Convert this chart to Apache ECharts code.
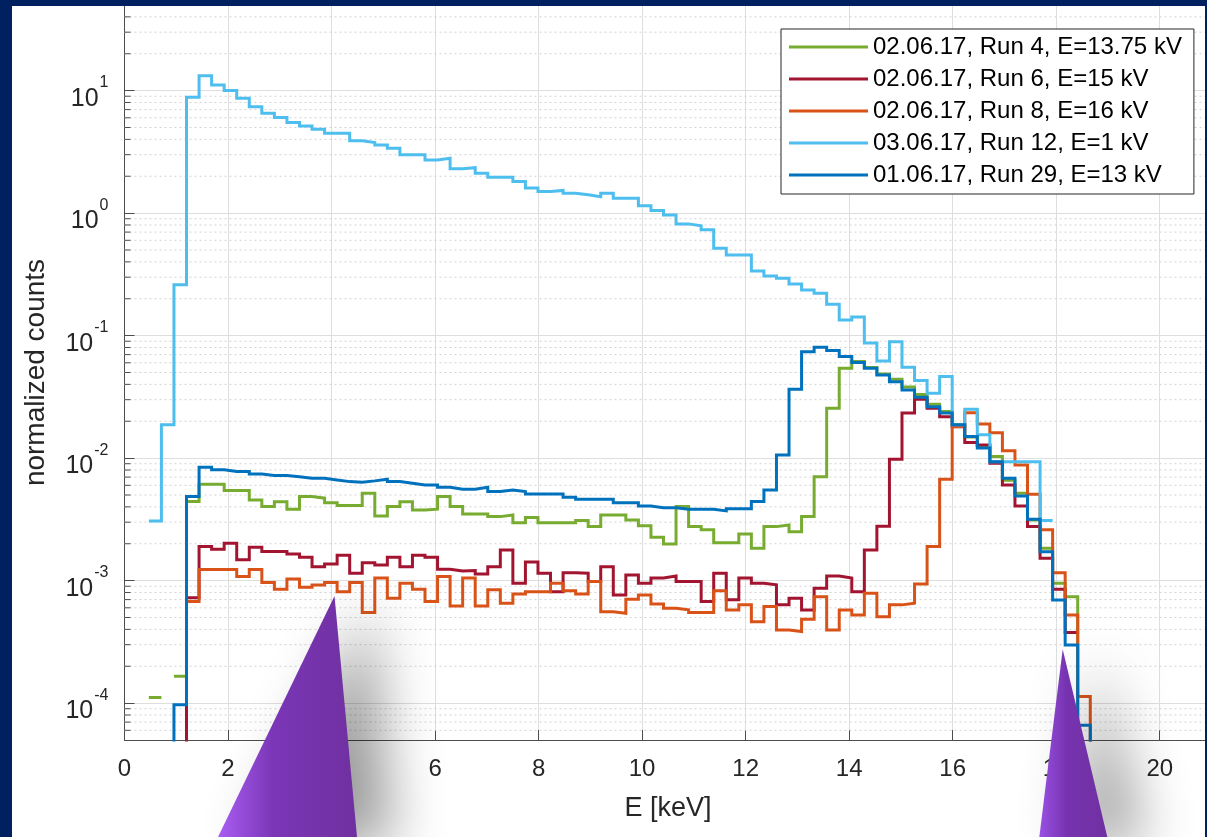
<!DOCTYPE html>
<html>
<head>
<meta charset="utf-8">
<script src="https://cdn.jsdelivr.net/npm/echarts@6/dist/echarts.min.js"></script>
<style>
html,body{margin:0;padding:0;background:#002060;}
#chart{width:1207px;height:837px;}
</style>
</head>
<body>
<div id="chart"></div>
<script>
// ---- histogram binning (keV) ----
const BIN_START = 0.4705;
const BIN_WIDTH = 0.2425;

// ---- axis ticks ----
const X_TICK_STEP = 2;
const X_MIN = 0, X_MAX = 21;
const Y_MIN = 5e-5, Y_MAX = 50;

// ---- legend / series names ----
const NAMES = [
  '02.06.17, Run 4, E=13.75 kV',
  '02.06.17, Run 6, E=15 kV',
  '02.06.17, Run 8, E=16 kV',
  '03.06.17, Run 12, E=1 kV',
  '01.06.17, Run 29, E=13 kV'
];
const COLORS = ['#77AC30', '#A2142F', '#D95319', '#4DBEEE', '#0072BD'];

// ---- bin contents (normalized counts), null = empty bin ----
const RUN4 = [1.11e-4, null, 1.66e-4, 4.42e-3, 6.12e-3, 6.12e-3, 5.43e-3, 5.43e-3, 4.56e-3, 4.02e-3,
  4.41e-3, 3.83e-3, 4.85e-3, 4.71e-3, 4.33e-3, 4.1e-3, 4.1e-3, 5.17e-3, 3.37e-3, 4.02e-3,
  4.41e-3, 3.78e-3, 3.83e-3, 4.85e-3, 4.02e-3, 3.5e-3, 3.5e-3, 3.33e-3, 3.44e-3, 2.97e-3,
  3.28e-3, 2.97e-3, 2.97e-3, 2.97e-3, 3.09e-3, 2.76e-3, 3.44e-3, 3.44e-3, 3.13e-3, 2.8e-3,
  2.26e-3, 1.99e-3, 4.02e-3, 2.76e-3, 2.6e-3, 2.04e-3, 2.04e-3, 2.4e-3, 1.84e-3, 2.76e-3,
  2.85e-3, 2.51e-3, 3.33e-3, 7.06e-3, 2.55e-2, 5.42e-2, 6.14e-2, 5.5e-2, 4.86e-2, 4.4e-2,
  3.8e-2, 3.3e-2, 2.75e-2, 2.4e-2, 1.87e-2, 1.49e-2, 1.27e-2, 1.03e-2, 6.6e-3, 5.17e-3,
  3.13e-3, 1.84e-3, 9.53e-4, 7.4e-4, 1e-5, null];

const RUN6 = [null, null, 1e-5, 7.26e-4, 1.9e-3, 1.8e-3, 2.02e-3, 1.48e-3, 1.87e-3, 1.73e-3,
  1.73e-3, 1.65e-3, 1.55e-3, 1.3e-3, 1.37e-3, 1.61e-3, 1.15e-3, 1.4e-3, 1.34e-3, 1.55e-3,
  1.3e-3, 1.61e-3, 1.55e-3, 1.24e-3, 1.2e-3, 1.21e-3, 1.13e-3, 1.3e-3, 1.78e-3, 9.53e-4,
  1.42e-3, 1.15e-3, 8.13e-4, 1.16e-3, 1.15e-3, 9.82e-4, 1.3e-3, 7.64e-4, 1.11e-3, 9.53e-4,
  1.05e-3, 1.09e-3, 9.82e-4, 9.82e-4, 6.75e-4, 1.15e-3, 6.97e-4, 1.05e-3, 9.53e-4, 9.23e-4,
  6.34e-4, 7.18e-4, 5.77e-4, 8.67e-4, 1.09e-3, 1.05e-3, 8.13e-4, 1.78e-3, 2.78e-3, 9.8e-3,
  2.33e-2, 3.03e-2, 2.55e-2, 2.18e-2, 1.8e-2, 1.34e-2, 1.28e-2, 9.08e-3, 6.04e-3, 4.07e-3,
  2.76e-3, 1.52e-3, 8.5e-4, 3.77e-4, null, null];

const RUN8 = [null, null, null, 6.75e-4, 1.23e-3, 1.23e-3, 1.23e-3, 1.08e-3, 1.23e-3, 9.64e-4,
  8.51e-4, 1.03e-3, 8.83e-4, 9.23e-4, 9.64e-4, 8.13e-4, 9.64e-4, 5.48e-4, 1.05e-3, 7.18e-4,
  9.53e-4, 8.51e-4, 6.75e-4, 1.08e-3, 6.21e-4, 1.05e-3, 6.21e-4, 8.43e-4, 6.53e-4, 7.78e-4,
  8.13e-4, 8.13e-4, 9.53e-4, 8.28e-4, 7.78e-4, 9.82e-4, 5.58e-4, 5.42e-4, 7.05e-4, 7.64e-4,
  6.45e-4, 5.96e-4, 5.77e-4, 5.48e-4, 5.48e-4, 8.28e-4, 5.77e-4, 6.34e-4, 4.62e-4, 6.14e-4,
  3.96e-4, 3.84e-4, 4.84e-4, 7.4e-4, 3.96e-4, 5.77e-4, 5.25e-4, 7.89e-4, 5.08e-4, 6.34e-4,
  6.53e-4, 9.4e-4, 1.9e-3, 6.73e-3, 1.81e-2, 2.35e-2, 1.9e-2, 1.61e-2, 1.15e-2, 8.8e-3,
  5.07e-3, 2.6e-3, 1.16e-3, 5.25e-4, 1.13e-4, 1e-5];

const RUN12 = [3.07e-3, 1.87e-2, 0.26, 8.83, 13.2, 11.1, 10.0, 8.67, 7.4, 6.54,
  6.02, 5.48, 5.15, 4.84, 4.49, 4.49, 3.89, 3.77, 3.6, 3.39,
  2.99, 2.99, 2.72, 2.81, 2.3, 2.35, 2.12, 1.96, 1.96, 1.81,
  1.6, 1.5, 1.53, 1.45, 1.41, 1.36, 1.45, 1.32, 1.32, 1.15,
  1.05, 0.966, 0.817, 0.787, 0.73, 0.516, 0.456, 0.456, 0.337, 0.307,
  0.294, 0.264, 0.236, 0.222, 0.18, 0.134, 0.142, 0.087, 0.0621, 0.0893,
  0.0552, 0.043, 0.0339, 0.0463, 0.0187, 0.0251, 0.0155, 0.00935, 0.00935, 0.00935,
  0.00935, 0.00309, null, null, null, null];

const RUN29 = [null, 1e-5, 9.7e-5, 4.85e-3, 8.43e-3, 8.02e-3, 7.77e-3, 7.77e-3, 7.43e-3, 7.2e-3,
  7.2e-3, 7.06e-3, 6.85e-3, 6.85e-3, 6.64e-3, 6.43e-3, 6.36e-3, 6.52e-3, 6.73e-3, 6.43e-3,
  6.24e-3, 6.04e-3, 6.04e-3, 5.78e-3, 5.57e-3, 5.57e-3, 5.78e-3, 5.33e-3, 5.5e-3, 5.33e-3,
  5.1e-3, 5.1e-3, 5.1e-3, 4.8e-3, 4.62e-3, 4.62e-3, 4.62e-3, 4.33e-3, 4.33e-3, 4.07e-3,
  3.94e-3, 3.94e-3, 3.83e-3, 3.83e-3, 3.83e-3, 3.71e-3, 3.87e-3, 3.87e-3, 4.42e-3, 5.5e-3,
  1.06e-2, 3.65e-2, 7.4e-2, 8.04e-2, 7.55e-2, 6.75e-2, 6.02e-2, 5.42e-2, 4.77e-2, 4.21e-2,
  3.6e-2, 3.14e-2, 2.63e-2, 2.33e-2, 1.87e-2, 1.5e-2, 1.21e-2, 9.36e-3, 6.85e-3, 4.91e-3,
  3.17e-3, 1.72e-3, 6.95e-4, 2.98e-4, 6.6e-5, 1e-5];

const ALL = [RUN4, RUN6, RUN8, RUN12, RUN29];

// ---- build stairs from bin contents ----
function stairs(vals) {
  const pts = [];
  vals.forEach((v, i) => {
    const x0 = BIN_START + i * BIN_WIDTH;
    const x1 = x0 + BIN_WIDTH;
    if (v == null) { pts.push([x0, '-']); return; }
    pts.push([x0, v], [x1, v]);
  });
  return pts;
}

// minor log gridlines (2..9 x 10^k)
const MINOR_Y = [];
for (let k = -5; k <= 1; k++) {
  for (let m = 2; m <= 9; m++) {
    const v = m * Math.pow(10, k);
    if (v > Y_MIN * 1.0001 && v < Y_MAX * 0.9999) MINOR_Y.push(v);
  }
}

const FONT = "'Liberation Sans', Arial, Helvetica, sans-serif";
const AXIS_COLOR = '#4d4d4d';
const TEXT_COLOR = '#262626';

const series = [{
  type: 'custom',
  name: 'minor',
  silent: true,
  z: 1,
  clip: true,
  data: MINOR_Y.map(v => [X_MIN, v]),
  renderItem: function (params, api) {
    const p = api.coord([X_MIN, api.value(1)]);
    const cs = params.coordSys;
    return {
      type: 'group',
      children: [
        { type: 'line', shape: { x1: cs.x, y1: p[1], x2: cs.x + cs.width, y2: p[1] },
          style: { stroke: '#d2d2d2', lineWidth: 1, lineDash: [2, 3] } },
        { type: 'line', shape: { x1: cs.x, y1: p[1], x2: cs.x + 6, y2: p[1] },
          style: { stroke: AXIS_COLOR, lineWidth: 1 } }
      ]
    };
  }
}];

ALL.forEach((vals, i) => {
  series.push({
    type: 'line',
    name: NAMES[i],
    data: stairs(vals),
    symbol: 'none',
    showSymbol: false,
    clip: true,
    z: 2,
    connectNulls: false,
    lineStyle: { color: COLORS[i], width: 3, cap: 'butt', join: 'miter' },
    itemStyle: { color: COLORS[i] },
    emphasis: { disabled: true }
  });
});

const chart = echarts.init(document.getElementById('chart'), null, { renderer: 'canvas' });

chart.setOption({
  animation: false,
  backgroundColor: '#ffffff',
  textStyle: { fontFamily: FONT },
  grid: { left: 124.5, right: -4.5, top: 5, bottom: 97, containLabel: false, outerBoundsMode: 'none' },
  xAxis: {
    type: 'value',
    min: X_MIN, max: X_MAX, interval: X_TICK_STEP,
    axisLine: { show: true, onZero: false, lineStyle: { color: AXIS_COLOR, width: 1 } },
    axisTick: { show: true, inside: true, length: 10, lineStyle: { color: AXIS_COLOR } },
    splitLine: { show: true, lineStyle: { color: '#dedede', width: 1 } },
    axisLabel: { show: true, showMaxLabel: false, margin: 17, fontSize: 24, color: TEXT_COLOR, fontFamily: FONT },
    name: 'E [keV]', nameLocation: 'middle', nameGap: 55,
    nameTextStyle: { fontSize: 27, color: TEXT_COLOR, fontFamily: FONT }
  },
  yAxis: {
    type: 'log', logBase: 10, min: Y_MIN, max: Y_MAX,
    axisLine: { show: true, lineStyle: { color: AXIS_COLOR, width: 1 } },
    axisTick: { show: true, inside: true, length: 10, lineStyle: { color: AXIS_COLOR } },
    splitLine: { show: true, lineStyle: { color: '#dedede', width: 1 } },
    axisLabel: {
      show: true, showMinLabel: false, showMaxLabel: false, margin: 16,
      formatter: function (v) { return '{b|10}{s|' + Math.round(Math.log10(v)) + '}'; },
      rich: {
        b: { fontSize: 25, color: TEXT_COLOR, fontFamily: FONT, padding: [16, 0, 0, 0] },
        s: { fontSize: 16, color: TEXT_COLOR, fontFamily: FONT, padding: [0, 0, 16, 1] }
      }
    },
    name: 'normalized counts', nameLocation: 'middle', nameGap: 74,
    nameTextStyle: { fontSize: 28, color: TEXT_COLOR, fontFamily: FONT }
  },
  legend: {
    data: NAMES,
    orient: 'vertical',
    left: 781, top: 29,
    padding: [4, 12, 5, 8],
    backgroundColor: '#ffffff',
    borderColor: '#262626', borderWidth: 1,
    itemWidth: 79, itemHeight: 3, itemGap: 4,
    icon: 'rect',
    selectedMode: false,
    textStyle: { fontSize: 24, lineHeight: 28, color: '#000000', fontFamily: FONT }
  },
  series: series,
  graphic: [
    // left cone with shadow
    { type: 'polygon', z: 200, silent: true,
      shape: { points: [[334.5, 596], [218, 837], [357, 837]] },
      style: {
        fill: { type: 'linear', x: 0, y: 0, x2: 1, y2: 0,
          colorStops: [{ offset: 0, color: '#a95df2' }, { offset: 0.4, color: '#7a36b6' }, { offset: 1, color: '#7030a0' }] },
        shadowBlur: 55, shadowOffsetX: 35, shadowOffsetY: 8, shadowColor: 'rgba(0,0,0,0.4)'
      } },
    // right cone with shadow
    { type: 'polygon', z: 200, silent: true,
      shape: { points: [[1062.7, 649.3], [1039.3, 837], [1107.3, 837]] },
      style: {
        fill: { type: 'linear', x: 0, y: 0, x2: 1, y2: 0,
          colorStops: [{ offset: 0, color: '#9a50e4' }, { offset: 0.4, color: '#7633b0' }, { offset: 1, color: '#7030a0' }] },
        shadowBlur: 55, shadowOffsetX: 35, shadowOffsetY: 8, shadowColor: 'rgba(0,0,0,0.4)'
      } },
    // navy frame
    { type: 'rect', z: 300, silent: true, shape: { x: 0, y: 0, width: 12, height: 837 }, style: { fill: '#002060' } },
    { type: 'rect', z: 300, silent: true, shape: { x: 0, y: 0, width: 1207, height: 6 }, style: { fill: '#002060' } },
    { type: 'rect', z: 300, silent: true, shape: { x: 1205, y: 0, width: 2, height: 837 }, style: { fill: '#002060' } }
  ]
});
</script>
</body>
</html>
